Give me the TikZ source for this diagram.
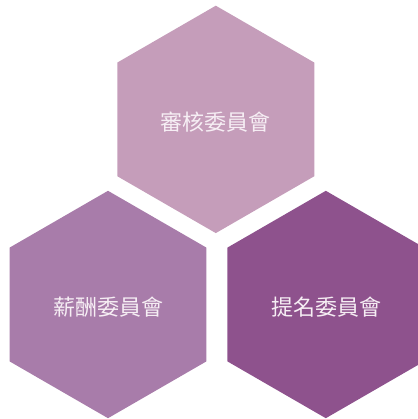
\documentclass[tikz,border=0pt]{standalone}
\usepackage{fontspec}
\newfontfamily\cjk{Noto Sans CJK TC}
\usetikzlibrary{shapes.geometric}
\definecolor{hexA}{HTML}{C59DBA}
\definecolor{hexB}{HTML}{A87CAA}
\definecolor{hexC}{HTML}{8E528D}
\definecolor{hextext}{HTML}{F6EEF4}
\tikzset{
  hexbox/.style={regular polygon, regular polygon sides=6, shape border rotate=30,
    minimum size=227.4pt, inner sep=0pt, outer sep=0pt, draw=none},
  hexlabel/.style={text=hextext, font=\cjk\fontsize{22}{22}\selectfont, inner sep=0pt}
}
\begin{document}
\begin{tikzpicture}[x=1pt,y=-1pt]
\useasboundingbox (0,0) rectangle (417,419);
\node[hexbox, fill=hexA] (audit) at (215.8,119.4) {};
\node[hexbox, fill=hexB] (pay) at (108,304.5) {};
\node[hexbox, fill=hexC] (nom) at (325.8,304.5) {};
\node[hexlabel] (auditt) at (215,122.5) {審核委員會};
\node[hexlabel] (payt) at (108,307.5) {薪酬委員會};
\node[hexlabel] (nomt) at (326,307.5) {提名委員會};
\end{tikzpicture}
\end{document}
